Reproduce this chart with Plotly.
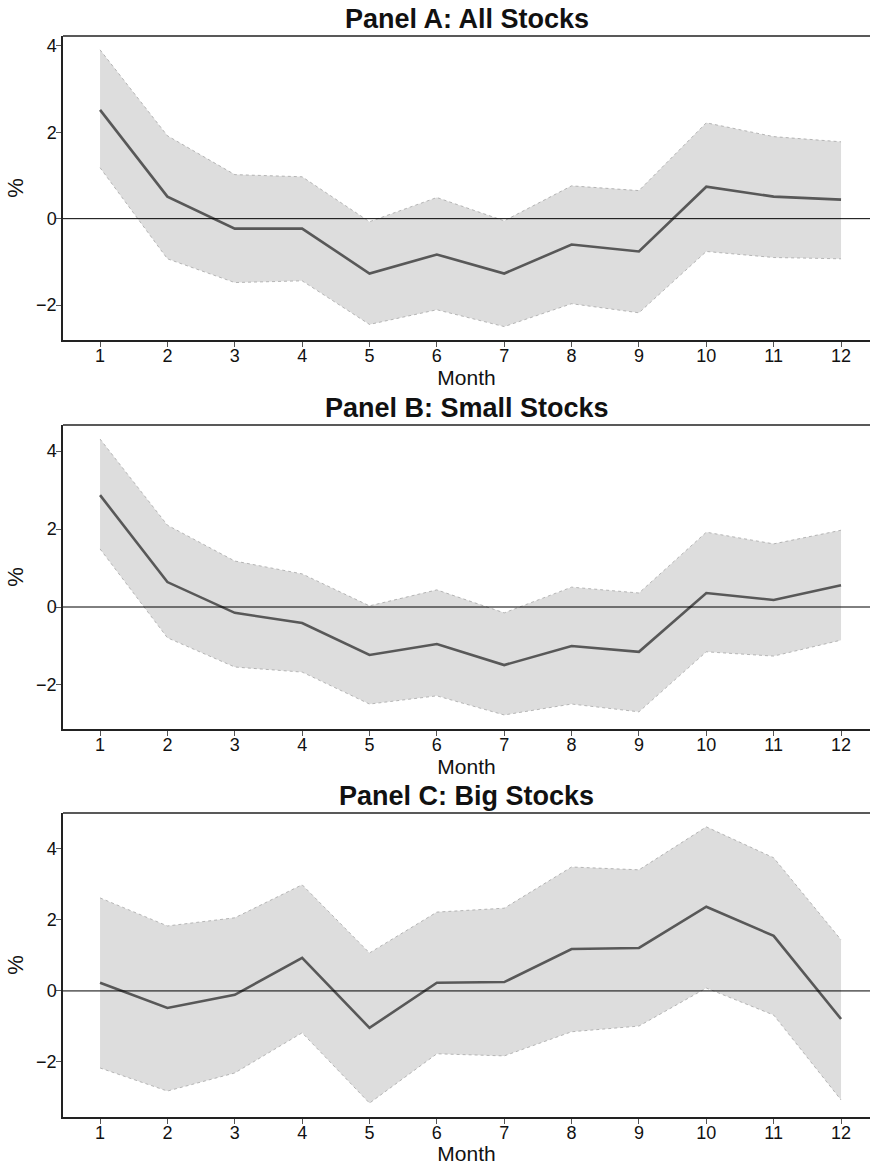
import plotly.graph_objects as go

months = list(range(1, 13))

# Panel A: All Stocks
a_mid = [2.52, 0.51, -0.23, -0.23, -1.27, -0.83, -1.27, -0.60, -0.76, 0.74, 0.51, 0.44]
a_up = [3.91, 1.92, 1.02, 0.97, -0.07, 0.49, -0.05, 0.76, 0.65, 2.22, 1.90, 1.78]
a_lo = [1.18, -0.93, -1.48, -1.44, -2.45, -2.11, -2.50, -1.97, -2.18, -0.76, -0.90, -0.93]

# Panel B: Small Stocks
b_mid = [2.87, 0.64, -0.15, -0.41, -1.23, -0.95, -1.49, -1.00, -1.15, 0.36, 0.18, 0.56]
b_up = [4.31, 2.10, 1.18, 0.85, 0.03, 0.44, -0.15, 0.51, 0.36, 1.92, 1.62, 1.97]
b_lo = [1.49, -0.79, -1.54, -1.67, -2.49, -2.28, -2.77, -2.49, -2.69, -1.15, -1.26, -0.85]

# Panel C: Big Stocks
c_mid = [0.23, -0.48, -0.11, 0.93, -1.04, 0.23, 0.25, 1.18, 1.21, 2.37, 1.55, -0.79]
c_up = [2.62, 1.83, 2.06, 2.99, 1.07, 2.22, 2.33, 3.49, 3.41, 4.62, 3.75, 1.44]
c_lo = [-2.17, -2.82, -2.31, -1.18, -3.16, -1.77, -1.83, -1.15, -0.99, 0.08, -0.68, -3.07]

titles = ["Panel A: All Stocks", "Panel B: Small Stocks", "Panel C: Big Stocks"]
y_ranges = [[-2.81, 4.23], [-3.13, 4.67], [-3.55, 5.01]]
y_ticks = [-2, 0, 2, 4]
y_ticktext = ["\u22122", "0", "2", "4"]
panels = [(a_mid, a_up, a_lo), (b_mid, b_up, b_lo), (c_mid, c_up, c_lo)]

W, H = 870, 1165
ml, mr, mt, mb = 63, 0, 36, 48
ph = H - mt - mb
tops_px = [36, 425, 813]
panel_h = 304

fig = go.Figure()
FONT = "Liberation Sans, Arial, sans-serif"

for i, (mid, up, lo) in enumerate(panels):
    ax = "" if i == 0 else str(i + 1)
    xref = "x" + ax
    yref = "y" + ax
    top = tops_px[i]
    d_top = (H - mb - top) / ph
    d_bot = (H - mb - top - panel_h) / ph
    fig.add_trace(go.Scatter(x=months, y=up, mode="lines",
                             line=dict(color="#9c9c9c", width=0.7, dash="dot"),
                             showlegend=False, xaxis=xref, yaxis=yref, hoverinfo="skip"))
    fig.add_trace(go.Scatter(x=months, y=lo, mode="lines", fill="tonexty",
                             fillcolor="#dddddd",
                             line=dict(color="#9c9c9c", width=0.7, dash="dot"),
                             showlegend=False, xaxis=xref, yaxis=yref, hoverinfo="skip"))
    fig.add_trace(go.Scatter(x=months, y=mid, mode="lines",
                             line=dict(color="#585858", width=2.6),
                             showlegend=False, xaxis=xref, yaxis=yref))
    xa = dict(range=[0.45, 12.43], tickvals=months, ticktext=[str(m) for m in months],
              showline=True, linecolor="#222", linewidth=1.5, ticks="outside",
              ticklen=5, tickcolor="#555", tickwidth=1, showgrid=False, zeroline=False,
              ticklabelstandoff=-6,
              tickfont=dict(family=FONT, size=18, color="#111"),
              title=dict(text="Month", font=dict(family=FONT, size=21, color="#111"), standoff=0),
              anchor=yref, domain=[0, 1], fixedrange=True)
    ya = dict(range=y_ranges[i], tickvals=y_ticks, ticktext=y_ticktext,
              showline=True, linecolor="#222", linewidth=1.5, ticks="outside",
              ticklen=5, tickcolor="#555", tickwidth=1, showgrid=False,
              zeroline=False, ticklabelstandoff=-4,
              tickfont=dict(family=FONT, size=18, color="#111"),
              title=dict(text="%", font=dict(family=FONT, size=22, color="#111"), standoff=6),
              anchor=xref, domain=[d_bot, d_top], fixedrange=True)
    fig.update_layout(**{"xaxis" + ax: xa, "yaxis" + ax: ya})
    fig.add_shape(type="line", xref=xref + " domain", yref=yref + " domain",
                  x0=0, x1=1, y0=1, y1=1, line=dict(color="#222", width=1.5))
    fig.add_shape(type="line", xref=xref + " domain", yref=yref, layer="above",
                  x0=0, x1=1, y0=0, y1=0, line=dict(color="#000", width=1))
    fig.add_annotation(text="<b>" + titles[i] + "</b>", xref="paper", yref="paper",
                       x=0.5, y=d_top, yanchor="bottom", xanchor="center", yshift=0,
                       showarrow=False, font=dict(family=FONT, size=27, color="#111"))

fig.update_layout(width=W, height=H, margin=dict(l=ml, r=mr, t=mt, b=mb),
                  plot_bgcolor="white", paper_bgcolor="white", showlegend=False)
fig.write_html("out.html", config={"displayModeBar": False},
               post_script="document.body.style.margin='0px';"
                           "document.documentElement.style.overflow='hidden';")
